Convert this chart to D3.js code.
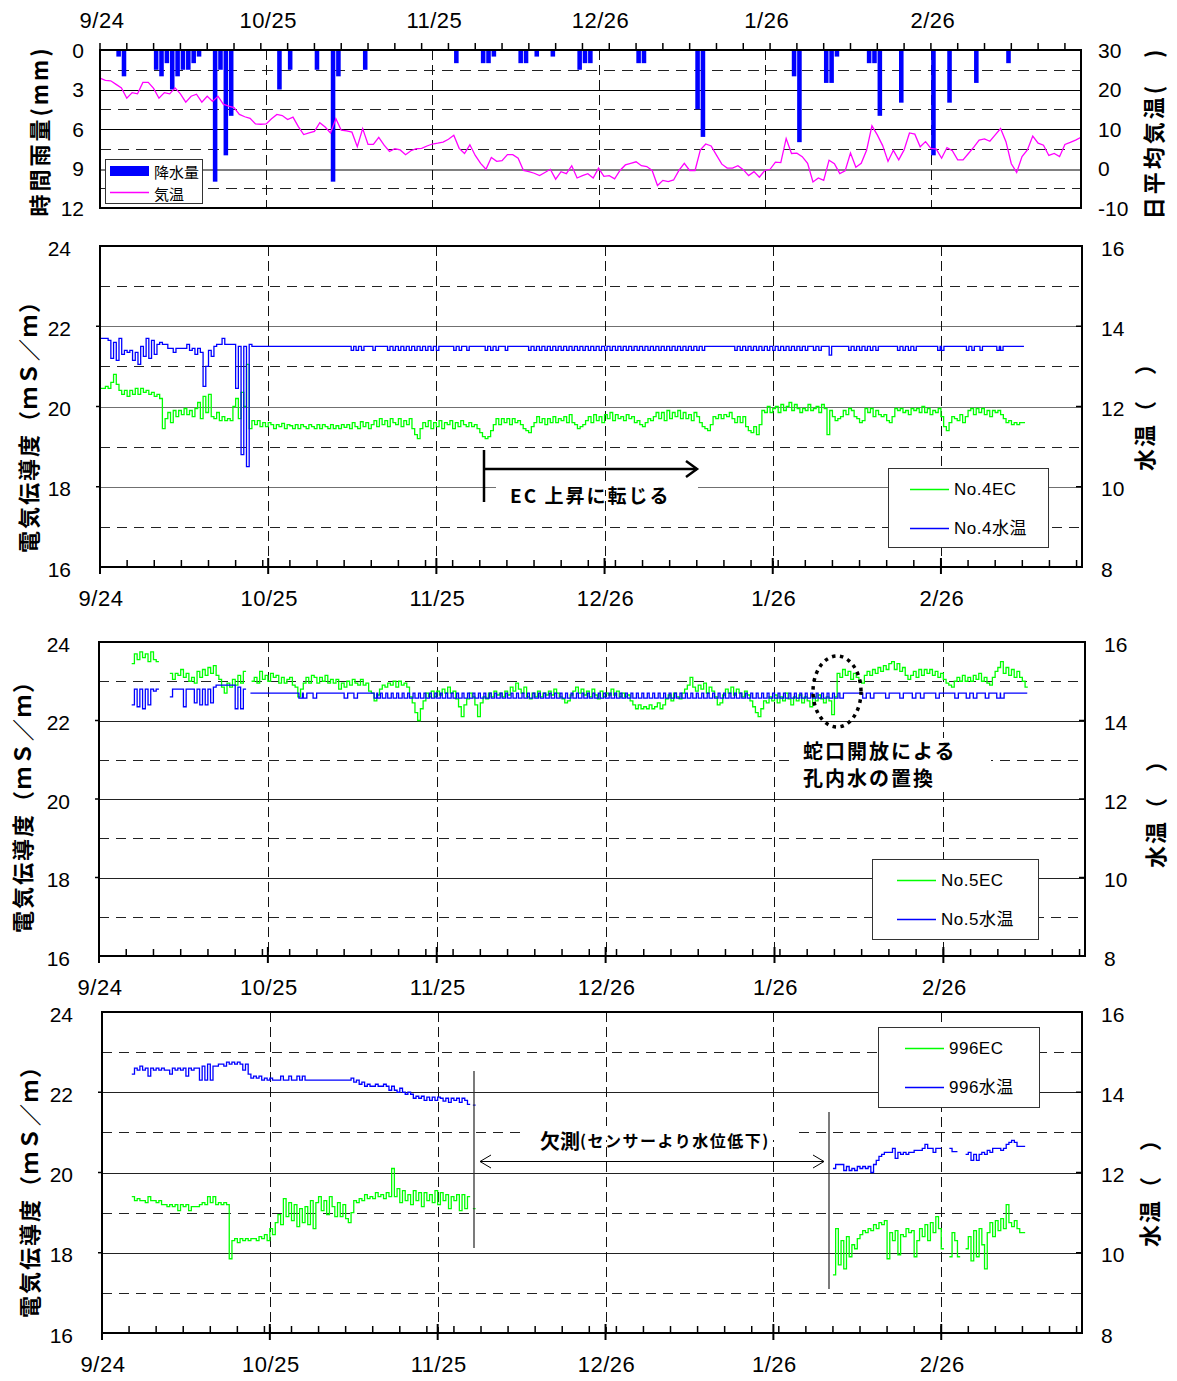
<!DOCTYPE html>
<html><head><meta charset="utf-8">
<script src="https://cdn.jsdelivr.net/npm/d3@7/dist/d3.min.js"></script>
<style>
html,body{margin:0;padding:0;background:#fff;}
svg{display:block;}
.grid{shape-rendering:crispEdges;}
</style></head>
<body>
<svg id="chart" width="1177" height="1381"></svg>
<script>
// ================= DATA =================
const dateLabels    = ["9/24","10/25","11/25","12/26","1/26","2/26"];
const dateLabelDays = [0,31,62,93,124,155];   // days after 9/24

// --- top panel: daily rain (mm) and daily mean air temperature (deg C)
const rainDays = [3,4,10,11,12,13,14,15,16,17,18,21,22,23,24,33,35,40,43,44,49,66,71,72,73,78,79,81,84,89,90,91,100,101,111,112,129,130,135,136,137,143,144,145,149,155,158,163,169];
const rainMM   = [0.5,2,1.5,2,1,3,2,1.5,1.5,1,0.5,10,1.5,8,5,3,1.5,1.5,10,2,1.5,1,1,1,0.5,1,1,0.5,0.5,1.5,1,1,1,1,4.5,6.6,2,7,2.5,2.5,0.5,1,1,5,4,8,4,2.5,1];
const airTemp = [
 22.9,22.3,22.2,21.3,20.4,17.8,19.2,18.9,21.8,21.8,
 20.3,17.8,19.2,18.9,20.4,18.9,16.8,18.3,18.8,16.8,
 18.3,17.0,18.3,16.3,15.8,15.4,13.7,13.1,12.7,11.3,
 11.2,11.3,12.6,13.7,13.4,12.4,13.0,10.6,8.6,9.0,
 9.4,11.6,10.5,9.0,12.6,9.7,9.5,9.2,5.5,10.1,
 6.1,6.1,7.9,5.9,4.3,5.0,4.7,3.5,4.5,5.0,
 5.1,5.7,6.2,6.4,6.7,7.4,8.4,5.1,3.8,6.0,
 3.3,1.3,-0.2,2.8,1.8,2.0,3.5,3.5,2.6,-0.5,
 -0.8,-1.2,-1.8,-1.0,-0.2,-2.7,-0.8,-1.3,0.7,-2.4,
 -1.8,-1.3,-2.4,0.1,-2.0,-1.8,-2.6,-0.5,0.9,1.3,
 1.7,0.7,0.5,-0.5,-4.3,-3.0,-3.3,-2.9,-0.5,1.3,
 -0.5,-0.5,4.7,6.2,5.7,3.4,1.1,0.1,0.1,0.7,
 -0.3,-1.8,-0.8,-2.2,-0.5,-0.2,1.6,1.5,7.6,3.8,
 3.9,3.0,1.3,-3.4,-2.4,-3.0,2.1,1.2,-1.3,-0.6,
 3.9,0.3,1.3,4.6,10.8,8.5,5.8,1.8,4.6,2.2,
 4.7,9.0,8.7,5.5,6.8,5.1,4.9,2.6,5.3,4.5,
 2.2,2.2,3.8,5.4,7.2,7.5,6.9,8.5,10.1,6.8,
 1.2,-1.0,3.0,4.7,8.2,6.4,5.9,3.3,3.8,3.0,
 6.1,6.6,7.2,7.9];

// --- No.4 : EC (mS/m) every half day from day 0
const no4ECStart = 0;
const no4EC = [
 20.45,20.45,20.5,20.45,20.6,20.8,20.55,20.4,20.3,20.4,20.25,20.4,20.3,20.45,20.3,20.45,20.35,20.4,20.3,20.35,
 20.25,20.3,20.2,19.45,19.7,19.85,19.6,19.9,19.75,19.9,19.8,19.95,19.8,19.9,19.75,19.95,20.1,19.7,20.25,19.85,
 20.3,19.75,19.7,19.85,19.65,19.75,19.65,19.7,19.65,20.0,20.2,19.7,20.35,20.0,21.05,19.45,19.65,19.55,19.65,19.5,
 19.6,19.5,19.6,19.55,19.45,19.55,19.5,19.58,19.45,19.55,19.52,19.45,19.55,19.45,19.55,19.5,19.45,19.55,19.5,19.45,
 19.55,19.45,19.55,19.5,19.45,19.55,19.45,19.52,19.45,19.55,19.48,19.55,19.45,19.6,19.5,19.45,19.62,19.5,19.6,19.45,
 19.55,19.65,19.5,19.7,19.55,19.65,19.5,19.7,19.6,19.55,19.7,19.5,19.65,19.55,19.7,19.45,19.3,19.2,19.45,19.6,
 19.5,19.65,19.45,19.6,19.5,19.65,19.45,19.6,19.55,19.65,19.45,19.6,19.5,19.65,19.55,19.5,19.6,19.5,19.55,19.45,
 19.35,19.25,19.2,19.25,19.4,19.55,19.7,19.55,19.7,19.6,19.7,19.55,19.7,19.6,19.65,19.55,19.45,19.4,19.35,19.5,
 19.6,19.75,19.6,19.7,19.55,19.7,19.6,19.75,19.6,19.7,19.65,19.75,19.6,19.8,19.6,19.55,19.45,19.5,19.55,19.65,
 19.75,19.6,19.8,19.65,19.75,19.6,19.8,19.7,19.85,19.65,19.8,19.7,19.75,19.65,19.8,19.7,19.75,19.6,19.65,19.55,
 19.5,19.6,19.7,19.65,19.75,19.85,19.7,19.85,19.65,19.9,19.7,19.85,19.75,19.9,19.7,19.85,19.7,19.8,19.65,19.85,
 19.75,19.6,19.5,19.45,19.4,19.55,19.75,19.7,19.8,19.7,19.8,19.75,19.85,19.7,19.6,19.75,19.6,19.75,19.5,19.4,
 19.35,19.5,19.3,19.55,19.9,19.85,20.0,19.85,19.95,20.0,19.85,20.05,19.9,20.0,20.1,19.9,20.05,19.95,19.85,19.95,
 19.9,20.05,19.9,19.95,20.0,19.85,20.05,19.95,19.3,19.9,19.75,19.65,19.7,19.75,19.9,19.8,19.95,19.9,19.75,19.7,
 19.6,19.65,19.95,19.85,19.95,19.75,19.9,19.8,19.75,19.8,19.65,19.6,19.75,19.95,19.9,19.95,19.85,19.9,19.8,19.95,
 19.9,19.95,19.85,20.0,19.85,19.95,19.8,19.9,19.85,19.95,19.75,19.5,19.4,19.6,19.75,19.7,19.65,19.8,19.6,19.75,
 19.9,19.95,19.8,19.95,19.85,19.95,19.8,19.9,19.75,19.9,19.85,19.9,19.8,19.7,19.6,19.65,19.55,19.6,19.55,19.6,
 19.6];
// --- No.4 : water temperature (deg C), half-daily to day 27.5, then a steady level with short dips
const no4TempEarly = [
 13.7,13.7,13.7,13.65,13.2,13.6,13.15,13.7,13.3,13.4,13.35,13.4,13.15,13.35,13.05,13.5,13.25,13.7,13.2,13.65,
 13.3,13.55,13.6,13.55,13.55,13.45,13.45,13.35,13.45,13.45,13.45,13.45,13.55,13.4,13.45,13.3,13.45,13.35,12.5,13.0,
 13.4,13.25,13.5,13.55,13.55,13.7,13.55,13.55,13.55,13.55,12.45,13.5,10.8,13.5,10.5,13.55];
const no4TempLevel = 13.5, no4TempLevelEnd = 170.3;
const no4TempDipDays = [46.3,47.2,48.2,50.3,53,54,55,56,57,58,59,60,61,62,65.2,66.2,67.6,71,72,73,74.7,
 79,80,81,82,83,84,85,86,87,88,89,90,91,92,93,94,95,96,97,98,99,100,101,102,103,104,105,106,107,108,109,110,111,
 117,118,119,120,121,122,123,124,125,126,127,128,129,130,131.5,132.5,138,139,140,141,142,143,
 147,148,149,150,154.4,155.1,159.7,160.7,162.2,165.3,166];
const no4TempDipValue = 13.4;
const no4TempDeepDipDays = [134.4];
const no4TempDeepDipValue = 13.28;

// --- No.5 : EC every half day from day 6 (null = no record)
const no5ECStart = 6;
const no5EC = [
 23.45,23.7,23.55,23.75,23.6,23.7,23.5,23.75,23.55,23.5,
 null,null,null,null,
 23.2,23.05,23.2,23.15,23.3,23.1,23.2,23.0,23.1,22.95,23.25,23.1,23.3,23.15,23.35,23.2,23.4,23.15,23.05,22.85,22.7,22.95,22.85,23.05,22.9,23.15,22.95,23.25,
 null,null,
 23.0,23.1,22.95,23.25,23.05,23.15,23.0,23.2,23.1,23.15,22.95,23.1,22.95,23.05,23.1,22.9,22.85,22.6,22.8,22.95,
 23.1,22.95,23.15,23.1,22.95,23.1,23.0,23.15,22.95,23.05,22.95,23.05,22.8,22.95,22.85,23.0,22.9,23.05,22.95,22.9,
 23.05,22.9,22.95,22.75,22.7,22.5,22.65,22.8,22.9,22.85,22.95,22.9,23.0,22.85,23.0,22.9,22.95,22.85,22.6,22.45,
 22.2,22.0,22.3,22.5,22.7,22.6,22.75,22.6,22.75,22.65,22.8,22.7,22.85,22.7,22.75,22.55,22.35,22.1,22.4,22.55,
 22.7,22.6,22.4,22.1,22.45,22.6,22.55,22.7,22.6,22.75,22.65,22.7,22.6,22.75,22.65,22.85,22.75,22.95,22.8,22.7,
 22.85,22.6,22.55,22.7,22.6,22.75,22.6,22.7,22.65,22.75,22.65,22.8,22.7,22.6,22.55,22.45,22.5,22.65,22.75,22.85,
 22.7,22.8,22.65,22.75,22.6,22.8,22.65,22.55,22.75,22.6,22.7,22.65,22.8,22.65,22.75,22.6,22.7,22.6,22.65,22.5,
 22.4,22.3,22.4,22.3,22.35,22.3,22.4,22.3,22.35,22.45,22.3,22.4,22.55,22.65,22.5,22.7,22.6,22.55,22.7,22.8,
 22.9,23.1,22.85,22.75,22.9,22.8,22.95,22.7,22.85,22.75,22.6,22.4,22.45,22.65,22.8,22.7,22.85,22.65,22.8,22.7,
 22.6,22.75,22.65,22.5,22.35,22.2,22.1,22.3,22.5,22.45,22.6,22.5,22.65,22.45,22.6,22.5,22.7,22.55,22.4,22.6,
 22.5,22.65,22.45,22.6,22.5,22.35,22.6,22.5,22.65,22.55,22.45,22.6,22.5,22.15,22.6,23.2,23.1,23.3,23.15,23.25,
 23.05,23.2,23.1,23.0,22.95,23.15,23.25,23.15,23.3,23.2,23.35,23.25,23.4,23.3,23.45,23.5,23.3,23.45,23.25,23.35,
 23.15,23.05,23.15,23.25,23.1,23.3,23.15,23.3,23.2,23.3,23.15,23.25,23.1,23.2,23.05,22.95,22.9,22.85,23.0,23.1,
 23.0,23.15,23.0,23.1,23.0,23.15,23.05,23.2,23.0,23.1,22.95,22.9,23.1,23.25,23.35,23.5,23.2,23.35,23.15,23.3,
 23.1,23.25,23.1,23.0,22.85];
// --- No.5 : water temperature
const no5TempStart = 6;
const no5TempEarly = [
 14.4,14.8,14.35,14.8,14.3,14.8,14.4,14.8,14.75,14.8,
 null,null,null,null,
 14.6,14.8,14.8,14.8,14.8,14.35,14.8,14.8,14.8,14.45,14.8,14.4,14.8,14.4,14.8,14.45,14.85,14.9,14.9,14.9,14.9,14.9,14.9,14.9,14.3,14.85,14.3,14.8];
const no5TempLevel = 14.7, no5TempLevelStart = 27.8, no5TempLevelEnd = 170.4;
const no5TempDipDays = [36.7,37.5,39.3,45,46.8,50.5,
 51,52,53,54,55,56,57,58,59,60,61,62,63,64,65,66,67,68,69,70,71,72,73,74,75,76,77,78,79,80,
 81,82,83,84,85,86,87,88,89,90,91,92,93,94,95,96,97,98,99,100,101,102,103,104,105,106,107,108,109,110,
 111,112,113,114,115,116,117,118,119,120,121,122,123,124,125,126,127,128,129,130,131,132,133,134,135,136,
 140.2,141.6,144.4,147,149.3,150.8,153.6,157.1,159.2,160.5,162.7,164.8,165.5];
const no5TempDipValue = 14.57;

// --- 996 : EC and water temperature, two recorded periods
const w996ECStartA = 5.5;
const w996ECA = [
 19.4,19.3,19.35,19.3,19.3,19.25,19.4,19.3,19.3,19.25,
 19.3,19.2,19.2,19.15,19.2,19.15,19.2,19.05,19.2,19.15,
 19.2,19.05,19.15,19.15,19.15,19.2,19.25,19.2,19.4,19.25,
 19.4,19.2,19.25,19.2,19.25,19.2,17.85,18.3,18.35,18.25,
 18.35,18.3,18.35,18.3,18.35,18.35,18.3,18.4,18.35,18.45,
 18.3,18.6,18.45,18.75,18.95,18.7,19.35,18.9,19.25,18.8,
 19.2,18.65,19.1,18.75,19.15,18.7,19.3,18.6,19.25,19.4,
 19.05,19.3,18.95,19.4,19.15,18.9,19.25,18.9,19.2,18.85,
 18.75,19.0,19.3,19.25,19.35,19.3,19.45,19.35,19.4,19.35,
 19.5,19.4,19.45,19.35,19.5,19.4,20.1,19.4,19.6,19.25,
 19.55,19.3,19.45,19.2,19.55,19.3,19.5,19.15,19.5,19.3,
 19.45,19.25,19.55,19.2,19.5,19.3,19.45,19.1,19.4,19.3,
 19.45,19.05,19.45,19.1,19.4,null,19.1];
const w996TempStartA = 5.5;
const w996TempA = [
 14.45,14.6,14.55,14.65,14.55,14.6,14.4,14.6,14.55,14.6,
 14.55,14.6,14.55,14.55,14.45,14.6,14.55,14.6,14.55,14.6,
 14.4,14.6,14.55,14.6,14.6,14.3,14.65,14.3,14.7,14.3,
 14.65,14.65,14.7,14.7,14.65,14.75,14.7,14.75,14.7,14.75,
 14.7,14.55,14.7,14.45,14.35,14.4,14.35,14.4,14.3,14.35,
 14.3,14.35,14.3,14.3,14.3,14.4,14.3,14.3,14.4,14.3,
 14.3,14.4,14.3,14.4,14.3,14.3,14.3,14.3,14.3,14.3,
 14.3,14.3,14.3,14.3,14.3,14.3,14.3,14.3,14.3,14.3,
 14.3,14.35,14.25,14.3,14.2,14.25,14.15,14.2,14.15,14.15,
 14.2,14.15,14.15,14.2,14.15,14.05,14.15,14.05,14.0,14.1,
 14.0,13.95,14.0,13.95,13.85,13.9,13.85,13.9,13.8,13.88,
 13.8,13.88,13.8,13.88,13.85,13.78,13.85,13.75,13.85,13.8,
 13.85,13.75,13.85,13.8,13.7,null,13.68];
const w996ECStartB = 135;
const w996ECB = [
 17.45,18.6,17.7,18.3,17.6,18.4,17.9,18.2,18.1,18.35,
 18.45,18.55,18.5,18.6,18.55,18.7,18.6,18.75,18.7,18.8,
 17.85,18.5,18.3,18.55,17.95,18.45,18.4,18.6,18.5,18.55,
 17.9,18.3,18.6,18.4,18.7,18.3,18.75,18.5,18.9,18.6,
 18.1,null,null,17.9,18.5,18.3,17.9,null,null,18.1,
 18.4,17.8,18.55,17.9,18.6,18.2,17.6,18.5,18.75,18.4,
 18.8,18.55,18.85,18.6,19.2,18.75,18.65,18.8,18.6,18.5,
 18.5];
const w996TempStartB = 135;
const w996TempB = [
 12.1,12.2,12.2,12.2,12.05,12.15,12.05,12.1,12.05,12.15,
 12.1,12.15,12.1,12.15,12.0,12.2,12.3,12.4,12.45,12.5,
 12.5,12.5,12.6,12.35,12.5,12.45,12.5,12.45,12.5,12.5,
 12.55,12.55,12.55,12.6,12.7,12.6,12.6,12.5,12.6,12.6,
 null,null,null,12.6,12.52,12.52,null,null,null,12.45,
 12.5,12.3,12.45,12.3,12.45,12.5,12.45,12.55,12.5,12.6,
 12.6,12.6,12.55,12.6,12.7,12.75,12.8,12.75,12.65,12.65,
 12.65];
const halfDay = 0.5;

// ================= DRAWING =================
const svg = d3.select("#chart");
const NUM = '"Liberation Sans", Arial, sans-serif';
const JP  = '"Noto Sans CJK JP", "Noto Sans JP", sans-serif';
const LEGF = '"Liberation Sans", Arial, "Noto Sans CJK JP", sans-serif';
const GREEN = "#00ff00", BLUE = "#0000ff", MAGENTA = "#ff00ff";
const px = v => Math.round(v) + 0.5;

function stepPoints(start, step, vals){
  const pts = [];
  vals.forEach((v,i)=>{
    const t = start + i*step;
    if (v == null) { pts.push([t, null]); return; }
    pts.push([t, v]); pts.push([t+step, v]);
  });
  return pts;
}
function levelWithDips(start, end, level, dips, w){
  const pts = [[start, level]];
  dips.forEach(([d, v])=>{ pts.push([d, level],[d, v],[d+w, v],[d+w, level]); });
  pts.push([end, level]);
  return pts;
}
function lineGen(x, y){
  return d3.line().defined(d=>d[1]!=null).x(d=>x(d[0])).y(d=>y(d[1]));
}
function addText(g, x, y, txt, o={}){
  return g.append("text").attr("x",x).attr("y",y).text(txt)
    .attr("font-family", o.family||NUM).attr("font-size", o.size||21)
    .attr("font-weight", o.weight||"normal")
    .attr("text-anchor", o.anchor||"start")
    .attr("dominant-baseline","central")
    .attr("letter-spacing", o.ls||0)
    .attr("fill", o.fill||"#000");
}
function vTitle(g, cx, cy, txt, size, ls){
  g.append("text").attr("transform",`translate(${cx},${cy}) rotate(-90)`)
    .attr("text-anchor","middle").attr("dominant-baseline","central")
    .attr("font-family", JP).attr("font-weight","bold")
    .attr("font-size", size).attr("letter-spacing", ls).text(txt);
}
function hLine(g, x0, x1, y, color, width, dash){
  g.append("line").attr("class","grid").attr("x1",x0).attr("x2",x1).attr("y1",px(y)).attr("y2",px(y))
    .attr("stroke",color).attr("stroke-width",width).attr("stroke-dasharray",dash||null);
}
function vLine(g, x, y0, y1, color, width, dash){
  g.append("line").attr("class","grid").attr("x1",px(x)).attr("x2",px(x)).attr("y1",y0).attr("y2",y1)
    .attr("stroke",color).attr("stroke-width",width).attr("stroke-dasharray",dash||null);
}

// ---------- TOP PANEL ----------
(function(){
  const P = {x0:100, x1:1081, y0:50, y1:208};
  const g = svg.append("g");
  const x = d3.scaleLinear().domain([0,183]).range([P.x0,P.x1]);
  const yR = d3.scaleLinear().domain([0,12]).range([P.y0,P.y1]);
  const yA = d3.scaleLinear().domain([-10,30]).range([P.y1,P.y0]);

  [1.5,3,4.5,6,7.5,9,10.5].forEach(v=>{
    const solid = (v%3===0);
    if (v===9) hLine(g, P.x0, P.x1, yR(v), "#808080", 2);
    else hLine(g, P.x0, P.x1, yR(v), solid ? "#000" : "#222", 1, solid ? null : "11,7");
  });
  dateLabelDays.slice(1).forEach(d=> vLine(g, x(d), P.y0, P.y1, "#111", 1, "10,5"));
  g.selectAll("rect.rain").data(rainDays).enter().append("rect")
    .attr("x", (d)=>x(d+0.05)).attr("width",(d)=>x(d+0.9)-x(d+0.05))
    .attr("y", yR(0)).attr("height",(d,i)=>yR(rainMM[i])-yR(0)).attr("fill",BLUE);
  g.append("path").datum(airTemp.map((v,i)=>[i,v]))
    .attr("d", lineGen(x,yA)).attr("fill","none").attr("stroke",MAGENTA).attr("stroke-width",1.3);
  g.append("rect").attr("x",P.x0).attr("y",P.y0).attr("width",P.x1-P.x0).attr("height",P.y1-P.y0)
    .attr("fill","none").attr("stroke","#000").attr("stroke-width",2);
  d3.range(0,184,5).forEach(d=>{
    g.append("line").attr("x1",x(d)).attr("x2",x(d)).attr("y1",P.y0-7).attr("y2",P.y0)
      .attr("stroke","#000").attr("stroke-width",1.5);
  });
  dateLabels.forEach((t,i)=> addText(g, x(dateLabelDays[i])+2, 20, t, {anchor:"middle", size:22, ls:"0.5px"}));
  [0,3,6,9,12].forEach(v=> addText(g, 84, yR(v), String(v), {anchor:"end"}));
  [30,20,10,0,-10].forEach(v=> addText(g, 1098, yA(v), String(v), {anchor:"start"}));
  vTitle(g, 38, 131, "時間雨量(mm)", 22, 3);
  vTitle(g, 1152, 133, "日平均気温(\u3000)", 22, 3);
  g.append("rect").attr("x",105.5).attr("y",159.5).attr("width",97).attr("height",44)
    .attr("fill","#fff").attr("stroke","#333").attr("stroke-width",1);
  g.append("rect").attr("x",110).attr("y",166).attr("width",39).attr("height",10).attr("fill",BLUE);
  g.append("line").attr("x1",110).attr("x2",149).attr("y1",192.5).attr("y2",192.5).attr("stroke",MAGENTA).attr("stroke-width",1.3);
  addText(g, 154, 171, "降水量", {family:JP, size:15});
  addText(g, 154, 193, "気温", {family:JP, size:15});
})();

// ---------- EC PANELS ----------
function ecPanel(P){
  const g = svg.append("g");
  const x = d3.scaleLinear().domain([0,181]).range([P.x0,P.x1]);
  const yE = d3.scaleLinear().domain([16,24]).range([P.y1,P.y0]);
  const yW = d3.scaleLinear().domain([8,16]).range([P.y1,P.y0]);
  [17,18,19,20,21,22,23].forEach(v=>{
    const solid = (v%2===0);
    hLine(g, P.x0, P.x1, yE(v), solid ? P.gridSolid : "#222", 1, solid ? null : "10,7");
  });
  dateLabelDays.slice(1).forEach(d=> vLine(g, x(d), P.y0, P.y1, "#111", 1, "10,5"));
  const layers = {grid:g, data: svg.append("g"), top: svg.append("g")};
  const t = layers.top;
  t.append("rect").attr("x",P.x0).attr("y",P.y0).attr("width",P.x1-P.x0).attr("height",P.y1-P.y0)
    .attr("fill","none").attr("stroke","#000").attr("stroke-width",2);
  d3.range(0,182,5).forEach(d=>{
    t.append("line").attr("x1",x(d)).attr("x2",x(d)).attr("y1",P.y1-7).attr("y2",P.y1)
      .attr("stroke","#000").attr("stroke-width",1.5);
  });
  dateLabelDays.forEach(d=>{
    t.append("line").attr("x1",x(d)).attr("x2",x(d)).attr("y1",P.y1-9).attr("y2",P.y1+7)
      .attr("stroke","#000").attr("stroke-width",2);
  });
  [18,20,22].forEach(v=>{
    t.append("line").attr("x1",P.x0-4).attr("x2",P.x0).attr("y1",yE(v)).attr("y2",yE(v)).attr("stroke","#000").attr("stroke-width",1.5);
    t.append("line").attr("x1",P.x1-6).attr("x2",P.x1).attr("y1",yE(v)).attr("y2",yE(v)).attr("stroke","#000").attr("stroke-width",1.5);
  });
  dateLabels.forEach((s,i)=> addText(t, x(dateLabelDays[i])+1, P.y1+31, s, {anchor:"middle", size:22, ls:"0.5px"}));
  [16,18,20,22,24].forEach(v=> addText(t, P.x0-29, yE(v)+2, String(v), {anchor:"end"}));
  [8,10,12,14,16].forEach(v=> addText(t, P.x1+19, yW(v)+2, String(v), {anchor:"start"}));
  vTitle(t, P.lt[0], P.lt[1], "電気伝導度（ｍＳ／ｍ）", 22, 2);
  vTitle(t, P.rt[0], P.rt[1], "水温（\u3000）", 22, 2);
  const L = P.leg;
  t.append("rect").attr("x",L.x+0.5).attr("y",L.y+0.5).attr("width",L.w).attr("height",L.h)
    .attr("fill","#fff").attr("stroke","#333").attr("stroke-width",1);
  t.append("line").attr("x1",L.lx).attr("x2",L.lx+39).attr("y1",L.y+21.5).attr("y2",L.y+21.5).attr("stroke",GREEN).attr("stroke-width",1.5);
  t.append("line").attr("x1",L.lx).attr("x2",L.lx+39).attr("y1",L.y+60.5).attr("y2",L.y+60.5).attr("stroke",BLUE).attr("stroke-width",1.5);
  addText(t, L.lx+44, L.y+21, P.names[0], {family:LEGF, size:17, ls:"0.5px"});
  addText(t, L.lx+44, L.y+60, P.names[1], {family:LEGF, size:17, ls:"0.5px"});
  return {x, yE, yW, layers};
}
function drawSeries(layer, pts, x, y, color){
  layer.append("path").datum(pts).attr("d", lineGen(x,y))
    .attr("fill","none").attr("stroke",color).attr("stroke-width",1.3).attr("stroke-linejoin","miter");
}
function mergeDips(days, value, deepDays, deepValue){
  return days.map(d=>[d,value]).concat(deepDays.map(d=>[d,deepValue])).sort((a,b)=>a[0]-b[0]);
}

// Panel No.4
(function(){
  const P = {x0:100,x1:1082,y0:246,y1:567, gridSolid:"#707070", lt:[27,421], rt:[1143,411],
    leg:{x:888,y:468,w:160,h:79,lx:910}, names:["No.4EC","No.4水温"]};
  const {x,yE,yW,layers} = ecPanel(P);
  layers.grid.append("rect").attr("x",496).attr("y",483).attr("width",202).attr("height",7).attr("fill","#fff");
  drawSeries(layers.data, stepPoints(no4ECStart, halfDay, no4EC), x, yE, GREEN);
  const early = stepPoints(0, halfDay, no4TempEarly);
  const late = levelWithDips(28, no4TempLevelEnd, no4TempLevel,
                 mergeDips(no4TempDipDays, no4TempDipValue, no4TempDeepDipDays, no4TempDeepDipValue), 0.45);
  drawSeries(layers.data, early.concat(late), x, yW, BLUE);
  const a = layers.top;
  a.append("line").attr("x1",484).attr("x2",484).attr("y1",450).attr("y2",502).attr("stroke","#000").attr("stroke-width",2.5);
  a.append("line").attr("x1",484).attr("x2",697).attr("y1",469).attr("y2",469).attr("stroke","#000").attr("stroke-width",2.5);
  a.append("path").attr("d","M686,461 L697,469 L686,477").attr("fill","none").attr("stroke","#000").attr("stroke-width",2.5);
  addText(a, 510, 494, "EC 上昇に転じる", {family:JP, weight:"bold", size:19, ls:"2px"});
})();

// Panel No.5
(function(){
  const P = {x0:99,x1:1085,y0:642,y1:956, gridSolid:"#222", lt:[21,801], rt:[1154,808],
    leg:{x:872,y:859,w:166,h:80,lx:897}, names:["No.5EC","No.5水温"]};
  const {x,yE,yW,layers} = ecPanel(P);
  layers.grid.append("rect").attr("x",794).attr("y",738).attr("width",197).attr("height",50).attr("fill","#fff");
  drawSeries(layers.data, stepPoints(no5ECStart, halfDay, no5EC), x, yE, GREEN);
  const early = stepPoints(no5TempStart, halfDay, no5TempEarly);
  early.push([no5TempLevelStart-0.3, null]);
  const late = levelWithDips(no5TempLevelStart, no5TempLevelEnd, no5TempLevel, no5TempDipDays.map(d=>[d,no5TempDipValue]), 0.65);
  drawSeries(layers.data, early.concat(late), x, yW, BLUE);
  const a = layers.top;
  a.append("ellipse").attr("cx",837).attr("cy",691.5).attr("rx",24).attr("ry",35.5)
    .attr("fill","none").attr("stroke","#000").attr("stroke-width",3.5).attr("stroke-dasharray","3.5,4.5");
  addText(a, 803, 750, "蛇口開放による", {family:JP, weight:"bold", size:20, ls:"2px"});
  addText(a, 803, 777, "孔内水の置換", {family:JP, weight:"bold", size:20, ls:"2px"});
})();

// Panel 996
(function(){
  const P = {x0:102,x1:1082,y0:1012,y1:1333, gridSolid:"#222", lt:[28,1186], rt:[1148,1187],
    leg:{x:878,y:1027,w:161,h:80,lx:905}, names:["996EC","996水温"]};
  const {x,yE,yW,layers} = ecPanel(P);
  layers.grid.append("rect").attr("x",524).attr("y",1126).attr("width",268).attr("height",14).attr("fill","#fff");
  drawSeries(layers.data, stepPoints(w996ECStartA, halfDay, w996ECA), x, yE, GREEN);
  drawSeries(layers.data, stepPoints(w996ECStartB, halfDay, w996ECB), x, yE, GREEN);
  drawSeries(layers.data, stepPoints(w996TempStartA, halfDay, w996TempA), x, yW, BLUE);
  drawSeries(layers.data, stepPoints(w996TempStartB, halfDay, w996TempB), x, yW, BLUE);
  const a = layers.top;
  a.append("line").attr("x1",474).attr("x2",474).attr("y1",1071).attr("y2",1248).attr("stroke","#333").attr("stroke-width",1.3);
  a.append("line").attr("x1",829).attr("x2",829).attr("y1",1112).attr("y2",1289).attr("stroke","#333").attr("stroke-width",1.3);
  a.append("line").attr("x1",480).attr("x2",824).attr("y1",1161.5).attr("y2",1161.5).attr("stroke","#000").attr("stroke-width",1);
  a.append("path").attr("d","M491,1155 L480,1161.5 L491,1168 M813,1155 L824,1161.5 L813,1168").attr("fill","none").attr("stroke","#000").attr("stroke-width",1);
  const tx = a.append("text").attr("x",540).attr("y",1140).attr("dominant-baseline","central")
    .attr("font-family",JP).attr("font-weight","bold");
  tx.append("tspan").attr("font-size",20).text("欠測");
  tx.append("tspan").attr("font-size",16).attr("letter-spacing","1.5px").text("(センサーより水位低下)");
})();
</script>
</body></html>
